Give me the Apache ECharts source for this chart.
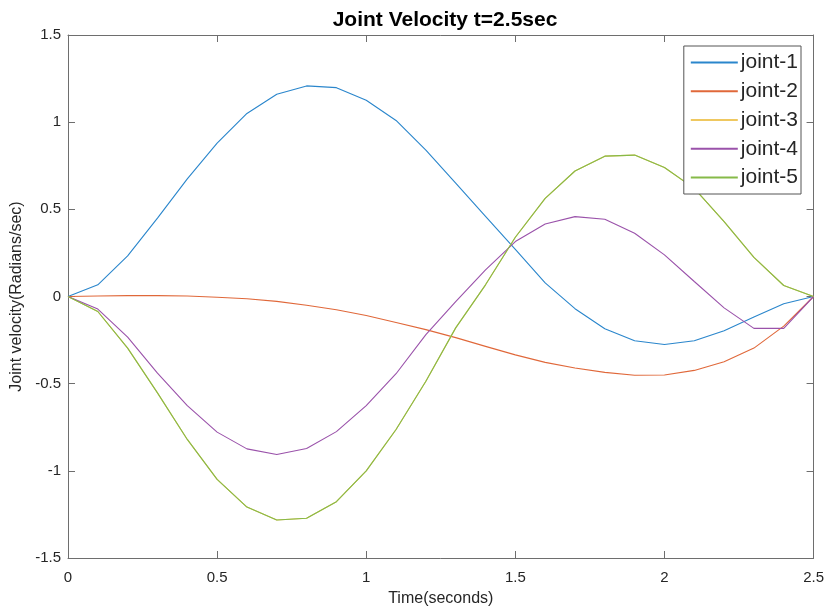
<!DOCTYPE html>
<html>
<head>
<meta charset="utf-8">
<script src="https://cdn.jsdelivr.net/npm/echarts@6/dist/echarts.min.js"></script>
<style>
  html, body { margin: 0; padding: 0; background: #fff; }
  #chart { width: 827px; height: 612px; }
</style>
</head>
<body>
<div id="chart"></div>
<script>
// time samples (seconds)
const time = [0, 0.1, 0.2, 0.3, 0.4, 0.5, 0.6, 0.7, 0.8, 0.9, 1.0, 1.1, 1.2,
  1.3, 1.4, 1.5, 1.6, 1.7, 1.8, 1.9, 2.0, 2.1, 2.2, 2.3, 2.4, 2.5];

const joint1 = [0, 0.067, 0.233, 0.45, 0.675, 0.88, 1.05, 1.16, 1.208, 1.198, 1.126, 1.01, 0.84,
  0.65, 0.46, 0.27, 0.078, -0.07, -0.185, -0.254, -0.275, -0.254, -0.196, -0.118, -0.042, 0];
const joint2 = [0, 0.003, 0.005, 0.005, 0.003, -0.004, -0.013, -0.028, -0.05, -0.076, -0.109, -0.149, -0.19,
  -0.236, -0.286, -0.335, -0.378, -0.41, -0.435, -0.452, -0.45, -0.424, -0.374, -0.296, -0.17, 0];
// joint-3 is hidden under joint-5 in the picture
const joint3 = [0, -0.086, -0.296, -0.553, -0.82, -1.049, -1.208, -1.282, -1.272, -1.177, -1.0, -0.763, -0.486,
  -0.18, 0.067, 0.34, 0.563, 0.72, 0.805, 0.811, 0.74, 0.62, 0.43, 0.225, 0.063, 0];
const joint4 = [0, -0.072, -0.233, -0.44, -0.626, -0.778, -0.874, -0.906, -0.872, -0.775, -0.626, -0.443, -0.219,
  -0.03, 0.153, 0.315, 0.416, 0.458, 0.443, 0.363, 0.239, 0.086, -0.065, -0.183, -0.183, 0];
const joint5 = [0, -0.086, -0.296, -0.553, -0.82, -1.049, -1.208, -1.282, -1.272, -1.177, -1.0, -0.763, -0.486,
  -0.18, 0.067, 0.34, 0.563, 0.72, 0.805, 0.811, 0.74, 0.62, 0.43, 0.225, 0.063, 0];

const names = ["joint-1", "joint-2", "joint-3", "joint-4", "joint-5"];
const values = [joint1, joint2, joint3, joint4, joint5];
const colors = ["#2a86cc", "#e0683a", "#efc860", "#9a52aa", "#86ba48"];

const font = "'Liberation Sans', Arial, sans-serif";
const axisGray = "#6e6e6e";
const textDark = "#262626";

const chart = echarts.init(document.getElementById("chart"), null, { renderer: "canvas" });

// box-style axis: line + inward ticks, optional labels
function boxAxis(extra) {
  return Object.assign({
    type: "value",
    axisLine: { show: true, onZero: false, lineStyle: { color: axisGray, width: 1 } },
    axisTick: { show: true, inside: true, length: 7, lineStyle: { color: axisGray, width: 1 } },
    splitLine: { show: false }
  }, extra);
}

const option = {
  animation: false,
  backgroundColor: "#fff",
  color: colors,
  title: {
    text: "Joint Velocity t=2.5sec",
    left: 440,
    top: 5,
    textAlign: "center",
    textStyle: { fontFamily: font, fontSize: 21, fontWeight: "bold", color: "#000" }
  },
  grid: { left: 68, right: 13, top: 35, bottom: 53 },
  legend: {
    data: names,
    orient: "vertical",
    right: 26,
    top: 46,
    icon: "rect",
    itemWidth: 47,
    itemHeight: 2,
    itemGap: 7.75,
    padding: [6, 3, 6, 7],
    borderColor: "#555",
    borderWidth: 1,
    backgroundColor: "#fff",
    textStyle: { fontFamily: font, fontSize: 21, color: textDark, padding: [0, 0, 0, -2] }
  },
  xAxis: [
    boxAxis({
      position: "bottom",
      min: 0,
      max: 2.5,
      interval: 0.5,
      name: "Time(seconds)",
      nameLocation: "middle",
      nameGap: 33,
      nameTextStyle: { fontFamily: font, fontSize: 16, color: textDark },
      axisLabel: { fontFamily: font, fontSize: 15, color: textDark, margin: 12 }
    }),
    boxAxis({
      position: "top",
      min: 0,
      max: 2.5,
      interval: 0.5,
      axisLabel: { show: false }
    })
  ],
  yAxis: [
    boxAxis({
      position: "left",
      min: -1.5,
      max: 1.5,
      interval: 0.5,
      name: "Joint velocity(Radians/sec)",
      nameLocation: "middle",
      nameGap: 37,
      nameTextStyle: { fontFamily: font, fontSize: 16, color: textDark },
      axisLabel: { fontFamily: font, fontSize: 15, color: textDark, margin: 7 }
    }),
    boxAxis({
      position: "right",
      min: -1.5,
      max: 1.5,
      interval: 0.5,
      axisLabel: { show: false }
    })
  ],
  series: names.map((name, i) => ({
    name: name,
    type: "line",
    xAxisIndex: 0,
    yAxisIndex: 0,
    showSymbol: false,
    symbol: "none",
    lineStyle: { width: 1.1, color: colors[i] },
    itemStyle: { color: colors[i] },
    data: time.map((t, k) => [t, values[i][k]])
  }))
};

chart.setOption(option);
</script>
</body>
</html>
